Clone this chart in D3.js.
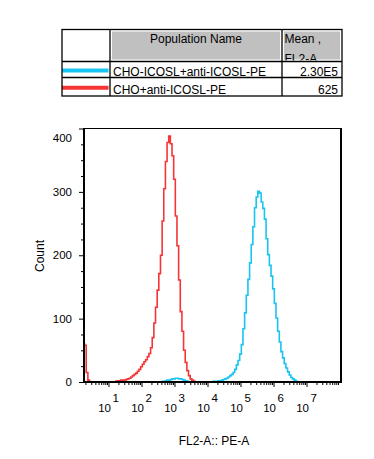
<!DOCTYPE html>
<html>
<head>
<meta charset="utf-8">
<script src="https://cdn.jsdelivr.net/npm/d3@7"></script>
<style>
  body { margin: 0; background: #fff; }
  svg { display: block; font-family: "Liberation Sans", Arial, sans-serif; }
</style>
</head>
<body>
<svg id="chart"></svg>
<script>
// legend table
const populations = ["CHO-ICOSL+anti-ICOSL-PE", "CHO+anti-ICOSL-PE"];
const means = ["2.30E5", "625"];
const seriesColors = ["#19c4f0", "#f53535"];

// axes
const yTicks = [0, 100, 200, 300, 400];
const xDecades = [1, 2, 3, 4, 5, 6, 7];
const xDomain = [1.81, 1.11e8];
const yDomain = [0, 400];

// histograms: [log10 FL2-A, count]
const blueHist = [
  [0.26, 0], [2.60, 0], [2.65, 1], [2.70, 1], [2.75, 2], [2.80, 3], [2.85, 3], [2.90, 4],
  [2.95, 5], [3.00, 5], [3.05, 6], [3.10, 6], [3.15, 5], [3.20, 5], [3.25, 4], [3.30, 3],
  [3.35, 2], [3.40, 1], [3.45, 0], [4.10, 0], [4.15, 0.5], [4.20, 1], [4.25, 1], [4.30, 1],
  [4.35, 2], [4.40, 2], [4.45, 3], [4.50, 4], [4.55, 5], [4.60, 6], [4.65, 8], [4.70, 10],
  [4.75, 12], [4.80, 15], [4.85, 20], [4.90, 27], [4.95, 34], [5.00, 44], [5.05, 59],
  [5.10, 84], [5.15, 109], [5.20, 137], [5.25, 162], [5.30, 188], [5.35, 217], [5.40, 245],
  [5.45, 275], [5.50, 292], [5.55, 301], [5.60, 298], [5.65, 284], [5.70, 274], [5.75, 257],
  [5.80, 226], [5.85, 201], [5.90, 184], [5.95, 167], [6.00, 147], [6.05, 124], [6.10, 101],
  [6.15, 80], [6.20, 63], [6.25, 48], [6.30, 38], [6.35, 29], [6.40, 22], [6.45, 16],
  [6.50, 11], [6.55, 7], [6.60, 5], [6.65, 3], [6.70, 1], [6.75, 0], [8.04, 0]
];
const redHist = [
  [0.26, 60], [0.30, 58], [0.35, 15], [0.40, 3], [0.45, 0], [1.20, 0], [1.25, 1.5],
  [1.30, 2], [1.35, 2], [1.40, 3], [1.45, 3], [1.50, 3], [1.55, 4], [1.60, 5], [1.65, 6],
  [1.70, 8], [1.75, 10], [1.80, 12], [1.85, 14], [1.90, 17], [1.95, 20], [2.00, 24],
  [2.05, 28], [2.10, 32], [2.15, 35], [2.20, 40], [2.25, 45], [2.30, 54], [2.35, 70],
  [2.40, 93], [2.45, 118], [2.50, 145], [2.55, 171], [2.60, 200], [2.65, 254], [2.70, 305],
  [2.75, 348], [2.80, 378], [2.85, 388], [2.90, 376], [2.95, 357], [3.00, 320], [3.05, 262],
  [3.10, 215], [3.15, 161], [3.20, 111], [3.25, 80], [3.30, 50], [3.35, 31], [3.40, 18],
  [3.45, 10], [3.50, 5], [3.55, 3], [3.60, 1], [3.65, 0], [8.04, 0]
];

const width = 374, height = 459;
const plot = { left: 84, right: 341, top: 128.5, bottom: 382 };

const svg = d3.select("#chart").attr("width", width).attr("height", height);

// ---------- table ----------
const tbl = { left: 62, c1: 110, c2: 282, right: 342, top: 29.5, head: 61.5, r1: 77.5, bottom: 96 };
const table = svg.append("g");

table.append("rect")
  .attr("x", tbl.c1 + 2).attr("y", tbl.top + 2)
  .attr("width", tbl.c2 - tbl.c1 - 4).attr("height", tbl.head - tbl.top - 4)
  .attr("fill", "#c0c0c0");
table.append("rect")
  .attr("x", tbl.c2 + 2).attr("y", tbl.top + 2)
  .attr("width", tbl.right - tbl.c2 - 4).attr("height", tbl.head - tbl.top - 4)
  .attr("fill", "#c0c0c0");

svg.append("clipPath").attr("id", "meanClip")
  .append("rect")
  .attr("x", tbl.c2 + 1).attr("y", tbl.top + 1)
  .attr("width", tbl.right - tbl.c2 - 2).attr("height", tbl.head - tbl.top - 2);

table.append("text")
  .attr("x", (tbl.c1 + tbl.c2) / 2).attr("y", 43)
  .attr("text-anchor", "middle").attr("font-size", 12)
  .text("Population Name");

const meanHead = table.append("text")
  .attr("clip-path", "url(#meanClip)")
  .attr("font-size", 12);
meanHead.append("tspan").attr("x", tbl.c2 + 2.5).attr("y", 43).text("Mean ,");
meanHead.append("tspan").attr("x", tbl.c2 + 2.5).attr("y", 63).text("FL2-A");

const rowY = [tbl.head, tbl.r1, tbl.bottom];
populations.forEach((p, i) => {
  const mid = (rowY[i] + rowY[i + 1]) / 2;
  table.append("line")
    .attr("x1", tbl.left).attr("x2", tbl.c1 - 1.5)
    .attr("y1", mid + 1).attr("y2", mid + 1)
    .attr("stroke", seriesColors[i]).attr("stroke-width", 4);
  table.append("text")
    .attr("x", tbl.c1 + 3).attr("y", rowY[i + 1] - 2)
    .attr("font-size", 12).text(p);
  table.append("text")
    .attr("x", tbl.right - 4).attr("y", rowY[i + 1] - 2)
    .attr("text-anchor", "end").attr("font-size", 12).text(means[i]);
});

table.append("rect")
  .attr("x", tbl.left).attr("y", tbl.top)
  .attr("width", tbl.right - tbl.left).attr("height", tbl.bottom - tbl.top)
  .attr("fill", "none").attr("stroke", "#000").attr("stroke-width", 1.3);
[tbl.c1, tbl.c2].forEach(cx => table.append("line")
  .attr("x1", cx).attr("x2", cx).attr("y1", tbl.top).attr("y2", tbl.bottom)
  .attr("stroke", "#000").attr("stroke-width", 1.3));
[tbl.head, tbl.r1].forEach(cy => table.append("line")
  .attr("x1", tbl.left).attr("x2", tbl.right).attr("y1", cy).attr("y2", cy)
  .attr("stroke", "#000").attr("stroke-width", 1.3));

// ---------- plot ----------
const x = d3.scaleLog().domain(xDomain).range([plot.left, plot.right]);
const y = d3.scaleLinear().domain(yDomain).range([plot.bottom, plot.top]);

svg.append("clipPath").attr("id", "plotClip")
  .append("rect")
  .attr("x", plot.left).attr("y", plot.top - 2)
  .attr("width", plot.right - plot.left).attr("height", plot.bottom - plot.top + 2);

const line = d3.line()
  .curve(d3.curveStep)
  .x(d => x(Math.pow(10, d[0])))
  .y(d => y(d[1]));

const lines = svg.append("g").attr("clip-path", "url(#plotClip)");
[[redHist, seriesColors[1]], [blueHist, seriesColors[0]]].forEach(([data, color]) => {
  lines.append("path")
    .datum(data)
    .attr("fill", "none")
    .attr("stroke", color)
    .attr("stroke-width", 1.6)
    .attr("d", line);
});

// y axis
const yMinor = d3.range(0, 401, 25).filter(v => v % 100 !== 0);
svg.append("g")
  .attr("transform", `translate(${plot.left},0)`)
  .call(d3.axisLeft(y).tickValues(yMinor).tickSize(3).tickFormat(""))
  .call(g => g.select(".domain").remove());
const yAxis = svg.append("g")
  .attr("transform", `translate(${plot.left},0)`)
  .call(d3.axisLeft(y).tickValues(yTicks).tickSize(5).tickPadding(7))
  .call(g => g.select(".domain").remove());
yAxis.selectAll("text")
  .attr("font-size", 11.5)
  .attr("font-family", "Liberation Sans, Arial, sans-serif")
  .attr("fill", "#000");
yAxis.selectAll(".tick").filter(d => d === 400).select("text").attr("y", 9);

// x axis
const xMinor = [];
for (let d = 0; d <= 7; d++) {
  for (let m = 2; m <= 9; m++) {
    const v = m * Math.pow(10, d);
    if (v >= xDomain[0] && v <= xDomain[1]) xMinor.push(v);
  }
}
svg.append("g")
  .attr("transform", `translate(0,${plot.bottom})`)
  .call(d3.axisBottom(x).tickValues(xMinor).tickSize(3).tickFormat(""))
  .call(g => g.select(".domain").remove());
svg.append("g")
  .attr("transform", `translate(0,${plot.bottom})`)
  .call(d3.axisBottom(x).tickValues(xDecades.map(n => Math.pow(10, n))).tickSize(5).tickFormat(""))
  .call(g => g.select(".domain").remove());

const xLabels = svg.append("g").attr("font-size", 11.5);
xDecades.forEach(n => {
  const t = xLabels.append("text")
    .attr("x", x(Math.pow(10, n)))
    .attr("y", 411.5)
    .attr("text-anchor", "middle");
  t.append("tspan").text("10");
  t.append("tspan").attr("dx", 1.5).attr("dy", -10).text(n);
});

// frame
svg.append("line")
  .attr("x1", plot.left).attr("x2", plot.right)
  .attr("y1", plot.top).attr("y2", plot.top)
  .attr("stroke", "#000").attr("stroke-width", 1.2);
svg.append("line")
  .attr("x1", plot.right).attr("x2", plot.right)
  .attr("y1", plot.top - 0.6).attr("y2", plot.bottom + 1)
  .attr("stroke", "#000").attr("stroke-width", 2);
svg.append("line")
  .attr("x1", plot.left).attr("x2", plot.left)
  .attr("y1", plot.top - 0.6).attr("y2", plot.bottom + 1)
  .attr("stroke", "#000").attr("stroke-width", 2);
svg.append("line")
  .attr("x1", plot.left - 1).attr("x2", plot.right + 1)
  .attr("y1", plot.bottom).attr("y2", plot.bottom)
  .attr("stroke", "#000").attr("stroke-width", 2);

// axis titles
svg.append("text")
  .attr("x", 214).attr("y", 445)
  .attr("text-anchor", "middle").attr("font-size", 12)
  .text("FL2-A:: PE-A");
svg.append("text")
  .attr("transform", "translate(44,256) rotate(-90)")
  .attr("text-anchor", "middle").attr("font-size", 12)
  .text("Count");
</script>
</body>
</html>
